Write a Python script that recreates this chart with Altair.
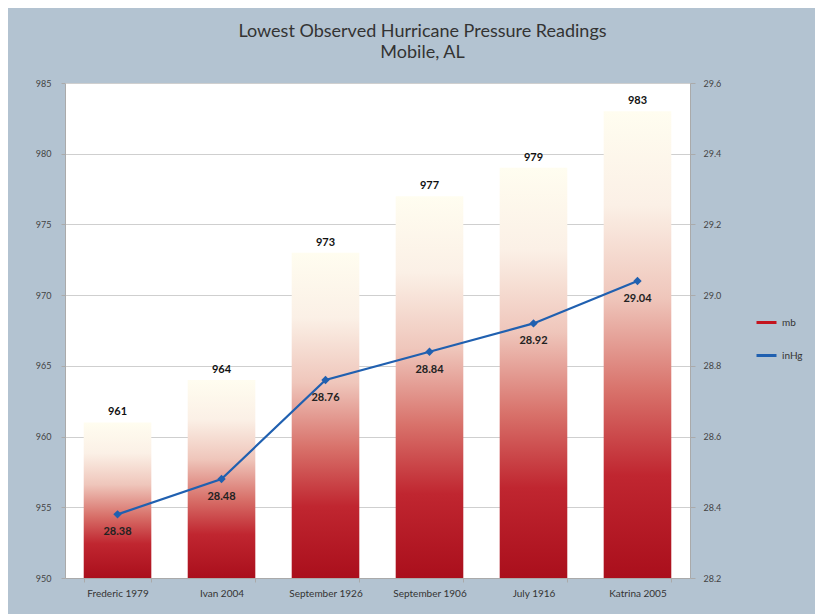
import altair as alt
import pandas as pd

storms = ["Frederic 1979", "Ivan 2004", "September 1926", "September 1906", "July 1916", "Katrina 2005"]
mb = [961, 964, 973, 977, 979, 983]
inhg = [28.38, 28.48, 28.76, 28.84, 28.92, 29.04]
mb_ticks = [950, 955, 960, 965, 970, 975, 980, 985]
inhg_ticks = [28.2, 28.4, 28.6, 28.8, 29.0, 29.2, 29.4, 29.6]
mb_floor = 950

df = pd.DataFrame({"storm": storms, "mb": mb, "inHg": inhg, "series": ["inHg"] * len(storms)})

FONT = "Lato"
GRID = "#cfcfcf"

x_enc = alt.X("storm:N", sort=storms, title=None,
              scale=alt.Scale(paddingInner=0.35, paddingOuter=0.18),
              axis=alt.Axis(labelAngle=0, labelFontSize=10, labelColor="#333", labelFont=FONT,
                            tickBand="extent", tickSize=4, tickColor="#aaa", domainColor="#aaa",
                            labelPadding=6, grid=False))

left_axis = alt.Axis(values=mb_ticks, title=None, labelFontSize=9, labelColor="#444", labelFont=FONT,
                     tickSize=4, tickColor="#aaa", domainColor="#aaa", labelPadding=10,
                     grid=True, gridColor=GRID)
right_axis = alt.Axis(values=inhg_ticks, format=".1f", orient="right", title=None, labelFontSize=9,
                      labelColor="#444", labelFont=FONT, tickSize=5, tickColor="#aaa",
                      domainColor="#aaa", labelPadding=8, grid=False)

y_mb = alt.Y("mb:Q", scale=alt.Scale(domain=[950, 985], nice=False, zero=False), axis=left_axis)
y_in = alt.Y("inHg:Q", scale=alt.Scale(domain=[28.2, 29.6], nice=False, zero=False), axis=right_axis)

gradient = {
    "gradient": "linear", "x1": 0, "y1": 0, "x2": 0, "y2": 1,
    "stops": [
        {"offset": 0.0, "color": "#fffdf0"},
        {"offset": 0.2, "color": "#fbf0e6"},
        {"offset": 0.4, "color": "#efc6bb"},
        {"offset": 0.6, "color": "#d8716a"},
        {"offset": 0.78, "color": "#c02630"},
        {"offset": 1.0, "color": "#aa0f1c"},
    ],
}

base = alt.Chart(df)

bars = base.mark_bar(fill=gradient).encode(x=x_enc, y=y_mb, y2=alt.datum(mb_floor))
bar_text = base.mark_text(dy=-10, fontSize=11, fontWeight="bold", font=FONT, color="#111").encode(
    x=x_enc, y=y_mb, text=alt.Text("mb:Q"))
left = alt.layer(bars, bar_text)

color_enc = alt.Color("series:N", title=None,
                      scale=alt.Scale(domain=["mb", "inHg"], range=["#c4141e", "#2060b0"]),
                      legend=alt.Legend(orient="none", legendX=690, legendY=228, symbolType="stroke",
                                        symbolStrokeWidth=3, symbolSize=400, labelFontSize=10,
                                        labelFont=FONT, labelColor="#333", rowPadding=15))

line = base.mark_line(strokeWidth=2.2).encode(x=x_enc, y=y_in, color=color_enc)
pts = base.mark_point(shape="diamond", filled=True, size=70, opacity=1).encode(x=x_enc, y=y_in, color=color_enc)
line_text = base.mark_text(dy=18, fontSize=11, fontWeight="bold", font=FONT, color="#222").encode(
    x=x_enc, y=y_in, text=alt.Text("inHg:Q", format=".2f"))
right = alt.layer(line, pts, line_text)

chart = alt.layer(left, right).resolve_scale(y="independent").properties(
    width=625, height=495,
    title=alt.TitleParams(["Lowest Observed Hurricane Pressure Readings", "Mobile, AL"],
                          anchor="middle", dx=45, offset=17, fontSize=18, font=FONT,
                          fontWeight="normal", color="#333", lineHeight=21),
    autosize=alt.AutoSizeParams(type="none"),
    padding={"left": 57, "top": 75, "right": 125, "bottom": 36},
    background="#b3c3d1",
).configure_view(fill="white", stroke=None)

chart.save("out.html", embed_options={"renderer": "svg", "actions": False})
